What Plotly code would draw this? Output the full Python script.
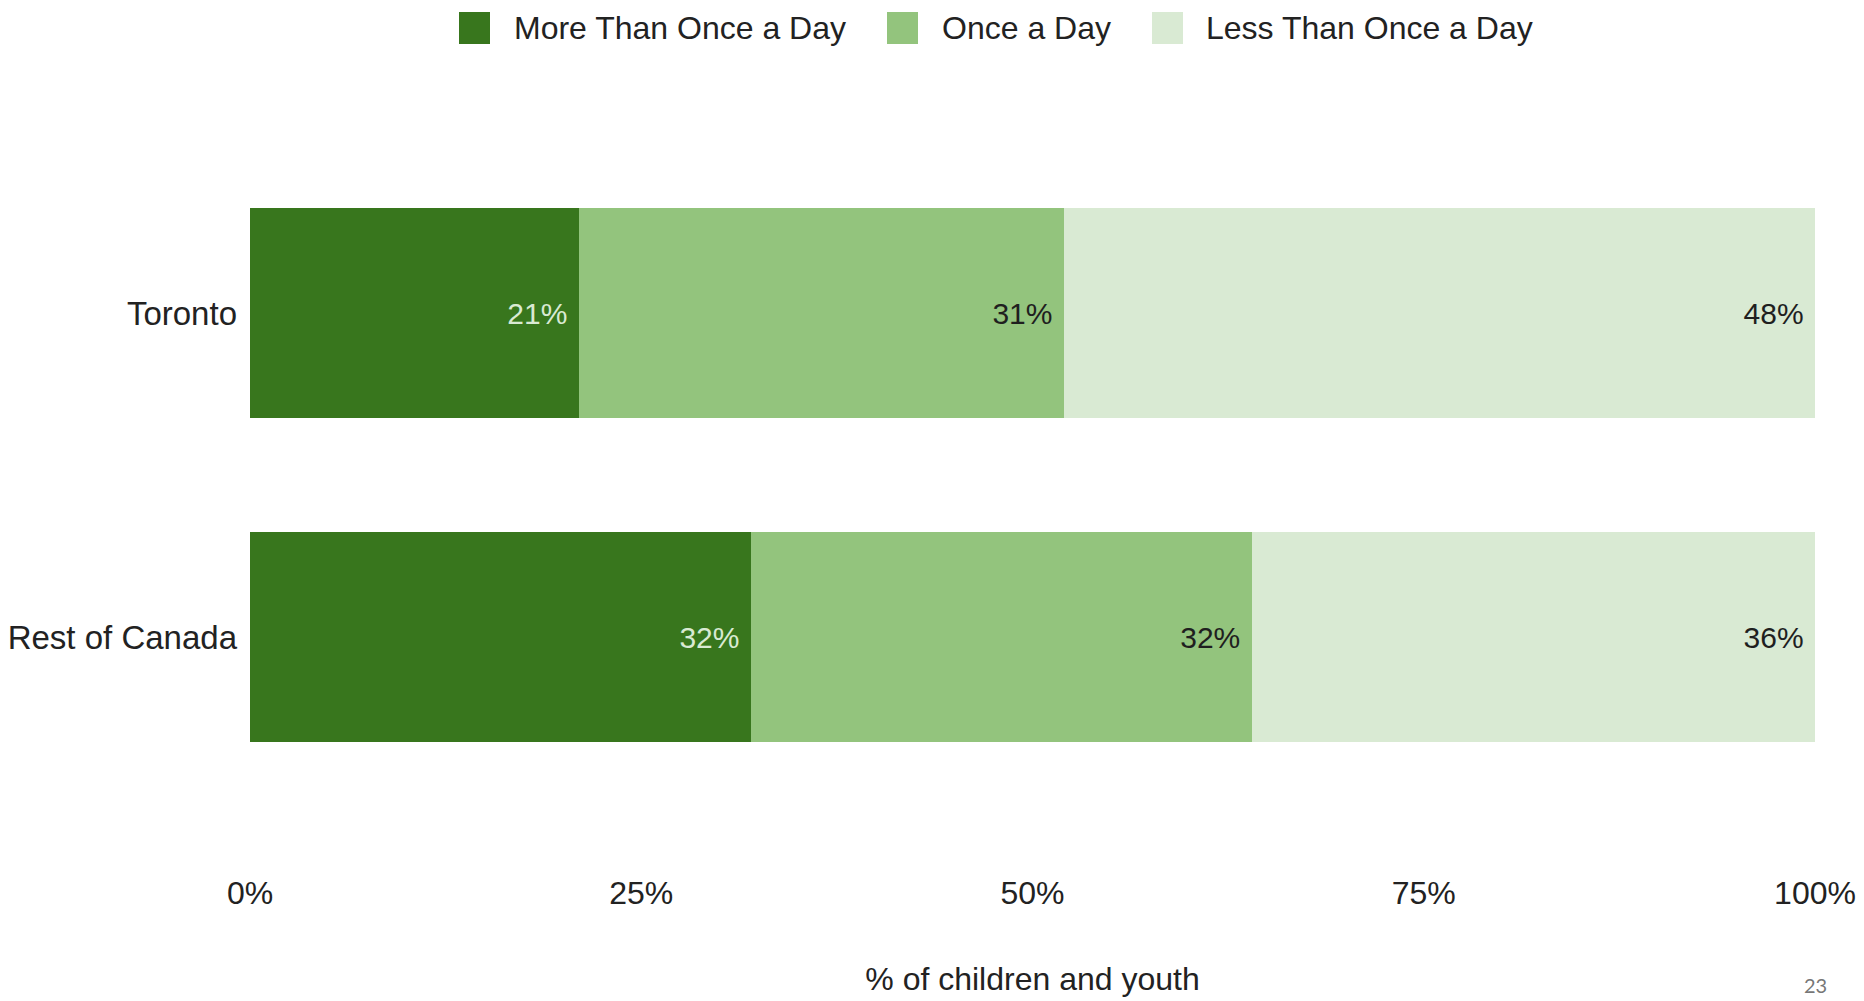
import plotly.graph_objects as go

# Share of children and youth by frequency, per region
regions = ["Toronto", "Rest of Canada"]
series_names = ["More Than Once a Day", "Once a Day", "Less Than Once a Day"]
more_than_once = [21, 32]
once_a_day = [31, 32]
less_than_once = [48, 36]
tick_values = [0, 25, 50, 75, 100]
tick_labels = ["0%", "25%", "50%", "75%", "100%"]

colors = ["#38761d", "#93c47d", "#d9ead3"]
label_colors = ["#d9ead3", "#1f1f1f", "#1f1f1f"]
FONT = "Liberation Sans, Arial, sans-serif"
TEXT = "#222222"

W, H = 1864, 1001
plot_left, plot_right, plot_top, plot_bottom = 250, 1815, 151, 799


def px_to_paper_x(px):
    return (px - plot_left) / (plot_right - plot_left)


def px_to_paper_y(py):
    return (plot_bottom - py) / (plot_bottom - plot_top)


fig = go.Figure()
for name, vals, col, lcol in zip(series_names,
                                 [more_than_once, once_a_day, less_than_once],
                                 colors, label_colors):
    fig.add_trace(go.Bar(
        y=regions, x=vals, name=name, orientation="h",
        marker=dict(color=col, line=dict(width=0)),
        text=[f"{v}%\u00a0" for v in vals],
        textposition="inside", insidetextanchor="end",
        textfont=dict(family=FONT, size=30, color=lcol),
        showlegend=False, hoverinfo="skip",
    ))

# Legend drawn as swatches + labels across the top
legend_items = [
    (series_names[0], colors[0], 459, 512),
    (series_names[1], colors[1], 887, 940),
    (series_names[2], colors[2], 1152, 1204),
]
for name, col, sx, tx in legend_items:
    fig.add_shape(type="rect", xref="paper", yref="paper",
                  x0=px_to_paper_x(sx), x1=px_to_paper_x(sx + 31),
                  y0=px_to_paper_y(44), y1=px_to_paper_y(12),
                  fillcolor=col, line=dict(width=0))
    fig.add_annotation(xref="paper", yref="paper",
                       x=px_to_paper_x(tx), y=px_to_paper_y(28),
                       xanchor="left", yanchor="middle", showarrow=False,
                       text=name, font=dict(family=FONT, size=32, color=TEXT))

# Page number in the bottom-right corner
fig.add_annotation(xref="paper", yref="paper",
                   x=px_to_paper_x(1815), y=px_to_paper_y(985),
                   xanchor="center", yanchor="middle", showarrow=False,
                   text="23", font=dict(family="Lato, sans-serif", size=20, color="#777777"))

fig.update_layout(
    barmode="stack",
    bargap=0.35,
    width=W, height=H,
    margin=dict(l=plot_left, r=W - plot_right, t=plot_top, b=H - plot_bottom,
                autoexpand=False),
    paper_bgcolor="white", plot_bgcolor="white",
    font=dict(family=FONT, size=32, color=TEXT),
    xaxis=dict(
        range=[0, 100], tickvals=tick_values, ticktext=tick_labels,
        showgrid=False, zeroline=False, showline=False, automargin=False,
        ticklabelstandoff=72,
        tickfont=dict(family=FONT, size=32, color=TEXT),
        title=dict(text="% of children and youth", standoff=57,
                   font=dict(family=FONT, size=32, color=TEXT)),
    ),
    yaxis=dict(
        autorange="reversed", showgrid=False, zeroline=False, showline=False,
        automargin=False, ticklabelstandoff=12,
        tickfont=dict(family=FONT, size=33, color=TEXT),
    ),
    uniformtext=dict(mode="show", minsize=10),
)

fig.write_html("out.html")
